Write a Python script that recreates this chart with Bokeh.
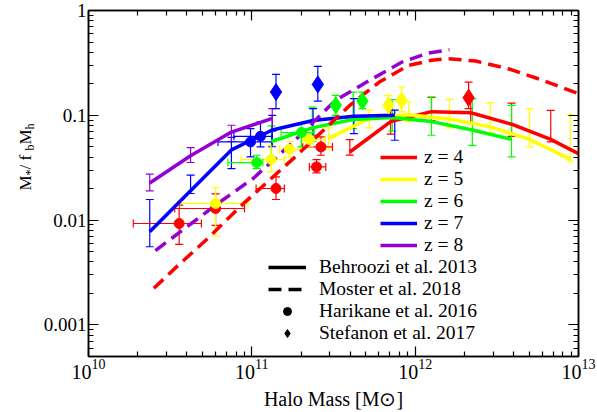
import math
from bokeh.plotting import figure
from bokeh.layouts import row
from bokeh.models import (ColumnDataSource, Whisker, TeeHead, FixedTicker, LogAxis,
                          CustomJSTickFormatter, Legend, LegendItem, Range1d)
from bokeh.core.properties import value
from bokeh.embed import file_html
from bokeh.resources import INLINE

FONT = "Liberation Serif"

# ---------------- data (log10 values) ----------------
# Behroozi et al. 2013 (solid curves with error bars): log10 Mh, log10 ratio, lower, upper
beh4_m = [11.60, 11.85, 12.10, 12.34, 12.59, 12.83, 13.08]
beh4_r = [-1.35, -1.06, -0.965, -0.975, -1.085, -1.23, -1.43]
beh4_lo = [-1.38, -1.18, -1.05, -1.07, -1.20, -1.254, -1.50]
beh4_hi = [-1.232, -0.95, -0.83, -0.84, -0.883, -0.952, -1.10]

beh5_m = [11.47, 11.72, 11.96, 12.21, 12.46, 12.70, 12.95]
beh5_r = [-1.22, -1.03, -0.995, -1.035, -1.11, -1.23, -1.42]
beh5_lo = [-1.32, -1.12, -1.06, -1.12, -1.168, -1.302, -1.438]
beh5_hi = [-1.12, -0.95, -0.873, -0.848, -0.879, -0.937, -0.994]

beh6_m = [11.12, 11.37, 11.62, 11.86, 12.10, 12.35, 12.59]
beh6_r = [-1.25, -1.12, -1.04, -1.02, -1.06, -1.14, -1.23]
beh6_lo = [-1.40, -1.25, -1.127, -1.15, -1.19, -1.286, -1.397]
beh6_hi = [-1.10, -0.921, -0.778, -0.85, -0.825, -0.841, -0.905]

beh7_m = [10.375, 10.625, 10.875, 11.125, 11.375, 11.625, 11.875]
beh7_r = [-2.11, -1.72, -1.33, -1.14, -1.05, -1.01, -1.00]
beh7_lo = [-2.254, -1.746, -1.508, -1.30, -1.19, -1.175, -1.238]
beh7_hi = [-1.803, -1.571, -1.21, -1.00, -0.937, -0.841, -0.95]

beh8_m = [10.375, 10.625, 10.875, 11.125]
beh8_r = [-1.645, -1.385, -1.16, -1.03]
beh8_lo = [-1.72, -1.45, -1.25, -1.15]
beh8_hi = [-1.562, -1.308, -1.095, -0.937]

# Moster et al. 2018 (dashed curves)
mos4_m = [10.40, 10.55, 10.73, 10.95, 11.27, 11.60, 11.78, 11.96, 12.10, 12.20, 12.37, 12.57, 12.77, 13.00, 13.05]
mos4_r = [-2.65, -2.43, -2.175, -1.84, -1.39, -0.905, -0.683, -0.524, -0.475, -0.46, -0.482, -0.556, -0.66, -0.794, -0.83]
mos8_m = [10.41, 10.64, 10.82, 11.01, 11.27, 11.51, 11.72, 11.92, 12.08, 12.21]
mos8_r = [-2.29, -2.02, -1.81, -1.60, -1.23, -0.86, -0.667, -0.492, -0.406, -0.375]

# Harikane et al. 2016 (circles, x and y errors)
har4_m = [10.555, 10.778, 11.148, 11.396, 11.423]
har4_r = [-2.032, -1.889, -1.698, -1.492, -1.302]
har4_mlo = [10.274, 10.528, 11.026, 11.352, 11.311]
har4_mhi = [10.691, 10.955, 11.199, 11.453, 11.494]
har4_lo = [-2.231, -2.05, -1.803, -1.549, -1.381]
har4_hi = [-1.857, -1.75, -1.587, -1.422, -1.206]

har5_m = [10.778, 11.118, 11.23, 11.352]
har5_r = [-1.841, -1.422, -1.324, -1.231]
har5_mlo = [10.549, 10.935, 11.169, 11.31]
har5_mhi = [10.976, 11.199, 11.30, 11.45]
har5_lo = [-2.152, -1.54, -1.40, -1.30]
har5_hi = [-1.689, -1.286, -1.25, -1.16]

har6_m = [11.03, 11.303]
har6_r = [-1.451, -1.165]
har6_mlo = [10.854, 11.179]
har6_mhi = [11.067, 11.382]
har6_lo = [-1.508, -1.302]
har6_hi = [-1.381, -1.079]

har7_m = [10.992, 11.053]
har7_r = [-1.254, -1.20]
har7_mlo = [10.793, 10.89]
har7_mhi = [11.124, 11.124]
har7_lo = [-1.397, -1.302]
har7_hi = [-1.127, -1.063]

# Stefanon et al. 2017 (diamonds, y errors)
ste4_m = [12.327]
ste4_r = [-0.832]
ste4_lo = [-0.937]
ste4_hi = [-0.683]

ste5_m = [11.836, 11.917]
ste5_r = [-0.905, -0.857]
ste5_lo = [-1.0, -0.968]
ste5_hi = [-0.81, -0.730]

ste6_m = [11.514, 11.677]
ste6_r = [-0.905, -0.864]
ste6_lo = [-1.0, -0.937]
ste6_hi = [-0.81, -0.778]

ste7_m = [11.148, 11.404]
ste7_r = [-0.778, -0.705]
ste7_lo = [-0.937, -0.864]
ste7_hi = [-0.61, -0.533]

z_labels = ["z = 4", "z = 5", "z = 6", "z = 7", "z = 8"]
ref_labels = ["Behroozi et al. 2013", "Moster et al. 2018", "Harikane et al. 2016", "Stefanon et al. 2017"]
colors = ["#ff0000", "#ffff00", "#00ff00", "#0000ff", "#9400d3"]
x_title = "Halo Mass [M\u2299]"

x_major = [1e10, 1e11, 1e12, 1e13]
y_major = [1e-3, 1e-2, 1e-1, 1.0]

# ---------------- geometry ----------------
W, H = 597, 412
FRAME_L, FRAME_R, FRAME_T, FRAME_B = 85, 578, 10, 356
YL_W = 40          # strip for the vertical axis title
MAIN_W = W - YL_W


def pw(a):
    return [10 ** v for v in a]


p = figure(width=MAIN_W, height=H, x_axis_type="log", y_axis_type="log",
           x_range=(1e10, 1e13), y_range=(5e-4, 1.0),
           output_backend="svg", toolbar_location=None,
           min_border_left=FRAME_L - YL_W, min_border_right=W - FRAME_R, min_border_top=FRAME_T,
           min_border_bottom=H - FRAME_B,
           background_fill_color="white", border_fill_color="white")
p.xgrid.visible = False
p.ygrid.visible = False
p.outline_line_color = "black"
p.outline_line_width = 1.5

x_minor = [m * 10 ** k for k in range(10, 13) for m in range(2, 10)]
y_minor = [m * 10 ** k for k in range(-4, 0) for m in range(2, 10) if m * 10 ** k >= 5e-4]
xt = FixedTicker(ticks=x_major, minor_ticks=x_minor)
yt = FixedTicker(ticks=y_major, minor_ticks=y_minor)


def style_axis(ax):
    ax.axis_line_width = 1.5
    ax.axis_line_color = "black"
    ax.major_tick_in = 10
    ax.major_tick_out = 0
    ax.minor_tick_in = 5
    ax.minor_tick_out = 0
    ax.major_tick_line_width = 1.2
    ax.minor_tick_line_width = 1.2
    ax.major_label_text_font = FONT
    ax.major_label_text_color = "black"


p.xaxis.ticker = xt
p.yaxis.ticker = yt
style_axis(p.xaxis[0])
style_axis(p.yaxis[0])
p.xaxis.major_label_text_font_size = "20px"
p.xaxis.major_label_standoff = 2
p.xaxis.axis_label = x_title
p.xaxis.axis_label_text_font = FONT
p.xaxis.axis_label_text_font_size = "20px"
p.xaxis.axis_label_text_font_style = "normal"
p.xaxis.axis_label_text_color = "black"
p.xaxis.axis_label_standoff = 6
p.yaxis.major_label_text_font_size = "19px"
p.yaxis.major_label_standoff = 2
p.yaxis.formatter = CustomJSTickFormatter(code="return tick.toString()")

for loc, tk in (("above", xt), ("right", yt)):
    ax = LogAxis(ticker=tk, formatter=CustomJSTickFormatter(code="return ''"))
    style_axis(ax)
    ax.major_label_text_font_size = "0pt"
    ax.major_label_standoff = 0
    p.add_layout(ax, loc)

beh = [(beh4_m, beh4_r, beh4_lo, beh4_hi), (beh5_m, beh5_r, beh5_lo, beh5_hi),
       (beh6_m, beh6_r, beh6_lo, beh6_hi), (beh7_m, beh7_r, beh7_lo, beh7_hi),
       (beh8_m, beh8_r, beh8_lo, beh8_hi)]
har = {0: (har4_m, har4_r, har4_mlo, har4_mhi, har4_lo, har4_hi),
       1: (har5_m, har5_r, har5_mlo, har5_mhi, har5_lo, har5_hi),
       2: (har6_m, har6_r, har6_mlo, har6_mhi, har6_lo, har6_hi),
       3: (har7_m, har7_r, har7_mlo, har7_mhi, har7_lo, har7_hi)}
ste = {0: (ste4_m, ste4_r, ste4_lo, ste4_hi), 1: (ste5_m, ste5_r, ste5_lo, ste5_hi),
       2: (ste6_m, ste6_r, ste6_lo, ste6_hi), 3: (ste7_m, ste7_r, ste7_lo, ste7_hi)}
mos = {0: (mos4_m, mos4_r), 4: (mos8_m, mos8_r)}


def bars(base, lo, hi, col, dim):
    src = ColumnDataSource(dict(base=pw(base), lower=pw(lo), upper=pw(hi)))
    w = Whisker(source=src, base="base", lower="lower", upper="upper", dimension=dim,
                line_color=col, line_width=1.2, level="underlay",
                upper_head=TeeHead(size=8, line_color=col, line_width=1.2),
                lower_head=TeeHead(size=8, line_color=col, line_width=1.2))
    p.add_layout(w)


# error bars
for i, (m, r, lo, hi) in enumerate(beh):
    bars(m, lo, hi, colors[i], "height")
for i, (m, r, mlo, mhi, lo, hi) in har.items():
    bars(m, lo, hi, colors[i], "height")
    bars(r, mlo, mhi, colors[i], "width")
for i, (m, r, lo, hi) in ste.items():
    bars(m, lo, hi, colors[i], "height")

# curves
solid_r = []
for i, (m, r, lo, hi) in enumerate(beh):
    solid_r.append(p.line(pw(m), pw(r), line_color=colors[i], line_width=3.5))
for i, (m, r) in mos.items():
    p.line(pw(m), pw(r), line_color=colors[i], line_width=3.5, line_dash="13 7")

# markers
for i, (m, r, mlo, mhi, lo, hi) in har.items():
    p.scatter(pw(m), pw(r), marker="circle", size=10, fill_color=colors[i], line_color=colors[i])
for i, (m, r, lo, hi) in ste.items():
    p.scatter(pw(m), pw(r), marker="diamond", size=17, fill_color=colors[i], line_color=colors[i])

# legend key renderers (hidden; only their legend sample is shown)
k_solid = p.line(pw(beh4_m), pw(beh4_r), line_color="black", line_width=3.5, visible=False)
k_dash = p.line(pw(beh4_m), pw(beh4_r), line_color="black", line_width=3.5, line_dash="13 7",
                visible=False)
k_circ = p.scatter(pw(beh4_m), pw(beh4_r), marker="circle", size=10, color="black", visible=False)
k_diam = p.scatter(pw(beh4_m), pw(beh4_r), marker="diamond", size=13, color="black", visible=False)

leg1 = Legend(items=[LegendItem(label=z_labels[i], renderers=[solid_r[i]]) for i in range(5)],
              location=(292, 100))
leg2 = Legend(items=[LegendItem(label=ref_labels[j], renderers=[rr])
                     for j, rr in enumerate([k_solid, k_dash, k_circ, k_diam])],
              location=(180, 12))
for lg, gw, so in ((leg1, 37, 7), (leg2, 38, 13)):
    lg.glyph_width = gw
    lg.glyph_height = 20
    lg.label_height = 20
    lg.label_standoff = so
    lg.spacing = 0
    lg.padding = 0
    lg.margin = 0
    lg.border_line_color = None
    lg.background_fill_alpha = 0
    lg.inactive_fill_alpha = 0
    lg.click_policy = "none"
    lg.label_text_font = FONT
    lg.label_text_font_size = "19.5px"
    lg.label_text_color = "black"
    p.add_layout(lg)

# ---------------- vertical axis title (text strip, for sub-scripts) ----------------
# strip frame has the same top/bottom borders as the main frame; y range = page px from bottom
yl = figure(width=YL_W, height=H, x_range=Range1d(0, YL_W), y_range=Range1d(H - FRAME_B, H - FRAME_T),
            x_axis_type=None, y_axis_type=None, output_backend="svg",
            toolbar_location=None, min_border=0, min_border_top=FRAME_T, min_border_bottom=H - FRAME_B,
            outline_line_color=None, background_fill_color="white", border_fill_color="white")
yl.title.visible = False

MAIN_FS, SUB_FS = 17, 12
pieces_y = [("M", MAIN_FS, 0.889), ("*", SUB_FS, 0.5), (" / f", MAIN_FS, 1.111), ("b", SUB_FS, 0.5),
            ("M", MAIN_FS, 0.889), ("h", SUB_FS, 0.5)]
ypos = 190.0   # bottom end (page px from top)
for txt, fs, adv in pieces_y:
    bx = 25 if fs == MAIN_FS else 29
    yl.text(x=[bx], y=[H - ypos], text=[txt], angle=math.pi / 2,
            text_font=value(FONT), text_font_size=f"{fs}px", text_color="black",
            text_align="left", text_baseline="alphabetic")
    ypos -= adv * fs

layout = row(yl, p, spacing=0)
open("out.html", "w").write(file_html(layout, INLINE))
